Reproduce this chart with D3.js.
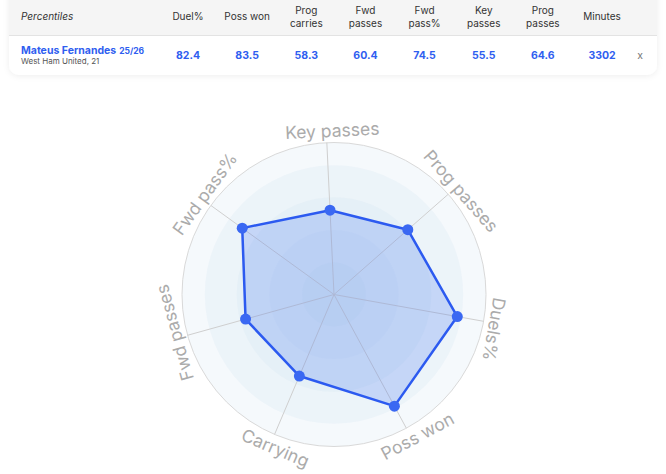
<!DOCTYPE html>
<html><head><meta charset="utf-8">
<script src="https://cdn.jsdelivr.net/npm/d3@7"></script>
<style>
html,body{margin:0;padding:0;background:#fff;}
svg{display:block;font-family:Inter,"Noto Sans",sans-serif;}
</style></head>
<body>
<svg id="chart" width="666" height="474"></svg>
<script>
// ---- data ----
const columnLabels = [["Duel%"],["Poss won"],["Prog","carries"],["Fwd","passes"],["Fwd","pass%"],["Key","passes"],["Prog","passes"],["Minutes"]];
const columnValues = ["82.4","83.5","58.3","60.4","74.5","55.5","64.6","3302"];
const playerName = "Mateus Fernandes";
const season = "25/26";
const teamAge = "West Ham United, 21";
const axes = ["Key passes","Prog passes","Duels%","Poss won","Carrying","Fwd passes","Fwd pass%"];
const values = [55.5, 64.6, 82.4, 83.5, 58.3, 60.4, 74.5];
const ringLevels = [100, 85, 64, 42.5, 21];

const svg = d3.select("#chart");
const W = 666;

// ---- header card ----
const defs = svg.append("defs");
const f = defs.append("filter").attr("id","sh").attr("x","-5%").attr("y","-20%").attr("width","110%").attr("height","150%");
f.append("feDropShadow").attr("dx",0).attr("dy",1).attr("stdDeviation",3).attr("flood-color","#000").attr("flood-opacity",0.07);
defs.append("clipPath").attr("id","cardclip").append("rect").attr("x",9).attr("y",-12).attr("width",648).attr("height",87).attr("rx",10);

svg.append("rect").attr("x",9).attr("y",-12).attr("width",648).attr("height",87).attr("rx",10)
  .attr("fill","#fff").attr("filter","url(#sh)");
const card = svg.append("g").attr("clip-path","url(#cardclip)");
card.append("rect").attr("x",0).attr("y",-12).attr("width",W).attr("height",47).attr("fill","#f5f5f5");
card.append("line").attr("x1",0).attr("x2",W).attr("y1",35.5).attr("y2",35.5).attr("stroke","#e3e3e3");

svg.append("text").attr("x",21).attr("y",20).attr("font-size",10).attr("font-style","italic")
  .attr("fill","#333").text("Percentiles");

const colX = d3.scalePoint().domain(d3.range(columnLabels.length)).range([188, 602]);
columnLabels.forEach((lbl,i)=>{
  const t = svg.append("text").attr("text-anchor","middle").attr("font-size",10).attr("fill","#333");
  if(lbl.length===1){
    t.append("tspan").attr("x",colX(i)).attr("y",20).text(lbl[0]);
  } else {
    t.append("tspan").attr("x",colX(i)).attr("y",14).text(lbl[0]);
    t.append("tspan").attr("x",colX(i)).attr("y",26.5).text(lbl[1]);
  }
});
columnValues.forEach((v,i)=>{
  svg.append("text").attr("x",colX(i)).attr("y",59).attr("text-anchor","middle")
    .attr("font-size",10.5).attr("font-weight",700).attr("fill","#2f5ef0").text(v);
});
const nm = svg.append("text").attr("x",21).attr("y",53.5).attr("font-weight",700).attr("fill","#2f5ef0");
nm.append("tspan").attr("font-size",10.5).text(playerName);
nm.append("tspan").attr("font-size",8.5).attr("dx",3).text(season);
svg.append("text").attr("x",21).attr("y",64).attr("font-size",8).attr("fill","#555").text(teamAge);
svg.append("text").attr("x",640).attr("y",59).attr("text-anchor","middle").attr("font-size",10.5).attr("fill","#777").text("x");

// ---- radar ----
const cx = 334, cy = 294.5, R = 152;
const offset = -2.7 * Math.PI/180;
const r = d3.scaleLinear().domain([0,100]).range([0,R]);
const ang = d3.scaleLinear().domain([0, axes.length]).range([offset, offset + 2*Math.PI]);
const g = svg.append("g").attr("transform",`translate(${cx},${cy})`);

ringLevels.forEach((lv,i)=>{
  g.append("circle").attr("r", r(lv)).attr("fill","#c8dcf0").attr("fill-opacity",0.18)
    .attr("stroke", i===0 ? "#d9d9d9" : "none").attr("stroke-width",1);
});
axes.forEach((a,i)=>{
  const t = ang(i);
  g.append("line").attr("x1",0).attr("y1",0)
    .attr("x2", r(100)*Math.sin(t)).attr("y2", -r(100)*Math.cos(t))
    .attr("stroke","#cfcfcf").attr("stroke-width",1);
});

const pts = values.map((v,i)=>[r(v)*Math.sin(ang(i)), -r(v)*Math.cos(ang(i))]);
g.append("path").attr("d", d3.line().curve(d3.curveLinearClosed)(pts))
  .attr("fill","#3b6ef0").attr("fill-opacity",0.22)
  .attr("stroke","#2c5af0").attr("stroke-width",2.5).attr("stroke-linejoin","round");
g.selectAll("circle.pt").data(pts).enter().append("circle").attr("class","pt")
  .attr("cx",d=>d[0]).attr("cy",d=>d[1]).attr("r",5.5).attr("fill","#3a68f2");

axes.forEach((a,i)=>{
  const t = ang(i);
  let deg = t*180/Math.PI;
  deg = ((deg+180)%360+360)%360-180;
  const lr = 164;
  const x = lr*Math.sin(t), y = -lr*Math.cos(t);
  const rot = Math.abs(deg) > 120 ? deg - 180*Math.sign(deg) : deg;
  g.append("text").attr("transform",`translate(${x},${y}) rotate(${rot}) translate(6,0)`)
    .attr("text-anchor","middle").attr("dominant-baseline","central")
    .attr("font-size",17.5).attr("fill","#ababab").text(a);
});
</script>
</body></html>
